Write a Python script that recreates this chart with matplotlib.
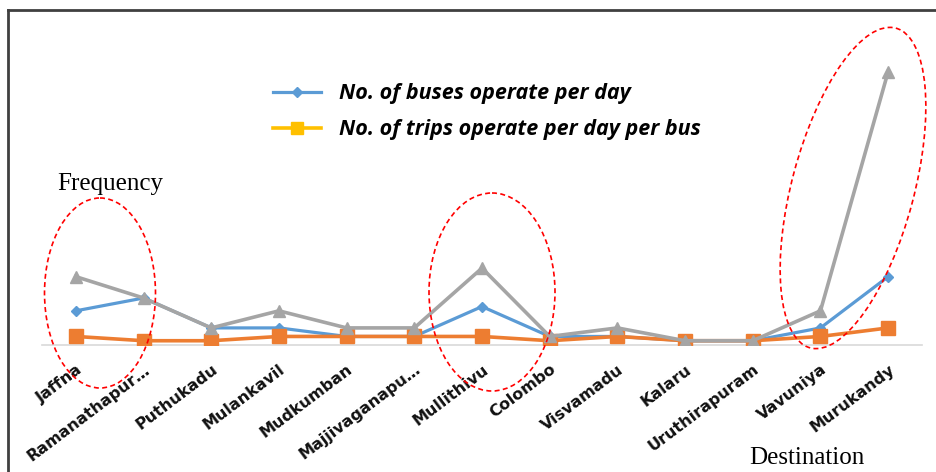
import matplotlib
matplotlib.use("Agg")
import matplotlib.pyplot as plt
from matplotlib.patches import Ellipse
from matplotlib.lines import Line2D

categories = ["Jaffna", "Ramanathapur…", "Puthukadu", "Mulankavil", "Mudkumban",
              "Majjivaganapu…", "Mullithivu", "Colombo", "Visvamadu", "Kalaru",
              "Uruthirapuram", "Vavuniya", "Murukandy"]
buses_per_day = [8, 11, 4, 4, 2, 2, 9, 2, 2, 1, 1, 4, 16]
trips_per_bus = [2, 1, 1, 2, 2, 2, 2, 1, 2, 1, 1, 2, 4]
total_trips = [16, 11, 4, 8, 4, 4, 18, 2, 4, 1, 1, 8, 64]
legend_labels = ["No. of buses operate per day", "No. of trips operate per day per bus"]

W, H = 936, 472
fig = plt.figure(figsize=(W / 100, H / 100), dpi=100)

ax = fig.add_axes([42 / W, 127 / H, 880 / W, 299 / H])
x = list(range(len(categories)))
ax.plot(x, buses_per_day, color="#5B9BD5", lw=2.3, marker="D", ms=5, zorder=3)
ax.plot(x, trips_per_bus, color="#ED7D31", lw=2.6, marker="s", ms=9.5, zorder=4)
ax.plot(x, total_trips, color="#A5A5A5", lw=2.6, marker="^", ms=8, zorder=5)
ax.set_xlim(-0.5, len(categories) - 0.5)
ax.set_ylim(0, 70)
for s in ["top", "right", "left"]:
    ax.spines[s].set_visible(False)
ax.spines["bottom"].set_color("#D9D9D9")
ax.spines["bottom"].set_linewidth(1.2)
ax.set_yticks([])
ax.set_xticks(x)
ax.set_xticklabels(categories, rotation=37, ha="right", va="top",
                   rotation_mode="anchor", fontsize=11.5, fontfamily="DejaVu Sans",
                   fontweight="bold", color="#111111")
ax.tick_params(axis="x", length=0, pad=12)

# overlay in pixel coordinates
ov = fig.add_axes([0, 0, 1, 1], facecolor="none")
ov.set_xlim(0, W)
ov.set_ylim(H, 0)
ov.axis("off")

# frame lines
ov.plot([8, 8], [10, H], color="#404040", lw=2)
ov.plot([8, W], [10, 10], color="#404040", lw=2)

# ellipses
for (cx, cy, w, h, a) in [(100, 293, 111, 190, 0), (492, 292, 126, 198, 0), (853, 188, 122, 331, 15)]:
    ov.add_patch(Ellipse((cx, cy), w, h, angle=a, fill=False, edgecolor="#FF0000",
                         ls=(0, (3, 2)), lw=1.2))

# legend
handles = [Line2D([0], [0], color="#5B9BD5", lw=2.3, marker="D", ms=5),
           Line2D([0], [0], color="#FFC000", lw=2.6, marker="s", ms=9)]
leg = ov.legend(handles, legend_labels, loc="upper left", bbox_to_anchor=(254 / W, 1 - 64 / H),
                frameon=False, handlelength=2.2, labelspacing=0.7, handletextpad=0.85,
                prop={"family": "Open Sans", "weight": "bold", "style": "italic", "size": 15.5})

ov.text(110, 184, "Frequency", ha="center", va="center", fontsize=18,
        fontfamily="Liberation Serif")
ov.text(807, 458, "Destination", ha="center", va="center", fontsize=18,
        fontfamily="Liberation Serif")

fig.savefig("out.png", dpi=100)
